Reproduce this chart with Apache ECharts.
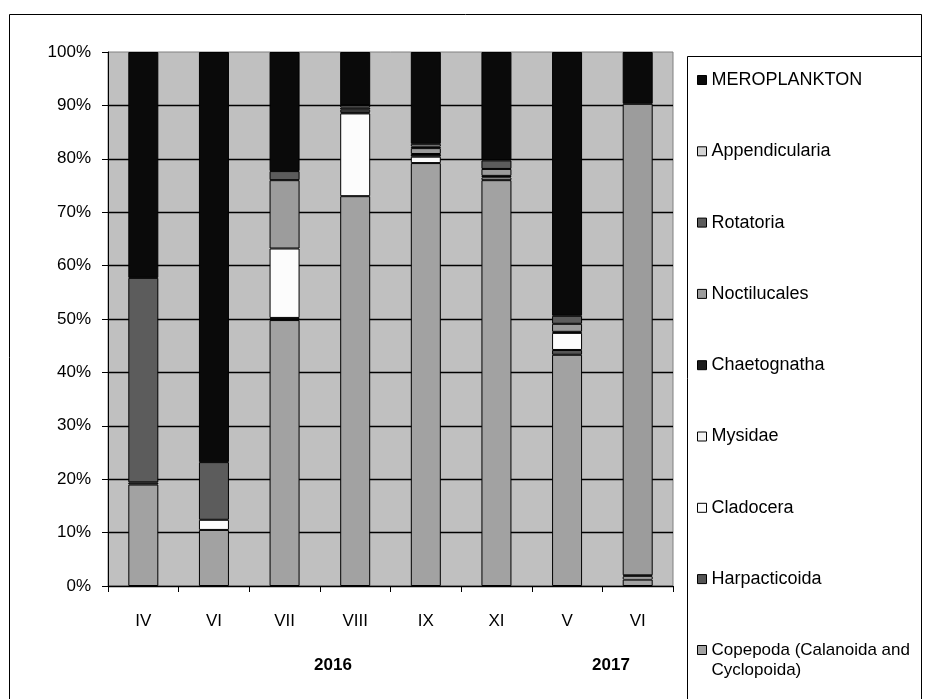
<!DOCTYPE html>
<html>
<head>
<meta charset="utf-8">
<script src="https://cdn.jsdelivr.net/npm/echarts@6/dist/echarts.min.js"></script>
<style>
html,body{margin:0;padding:0;background:#fff;}
#chart{width:925px;height:699px;}
</style>
</head>
<body>
<div id="chart"></div>
<script>
// Categories (months) and year labels
var categories = ['IV', 'VI', 'VII', 'VIII', 'IX', 'XI', 'V', 'VI'];
var yearLabels = ['2016', '2017'];

// Series values (% of total), bottom of stack first
var copepoda       = [19.0, 10.5, 49.8, 73.0, 79.2, 76.0, 43.3, 1.2];
var harpacticoida  = [0.4, 0, 0.4, 0, 0, 0, 0.9, 0];
var cladocera      = [0, 1.9, 13.0, 15.5, 1.2, 0.5, 3.2, 0.6];
var mysidae        = [0, 0, 0, 0, 0, 0, 0, 0];
var chaetognatha   = [0, 0, 0, 0.2, 0.5, 0.3, 0.2, 0.2];
var noctilucales   = [0, 0, 12.8, 0.5, 1.1, 1.3, 1.5, 88.3];
var rotatoria      = [38.3, 10.8, 1.7, 0.4, 0.3, 1.6, 1.5, 0];
var appendicularia = [0, 0, 0, 0.4, 0.5, 0, 0, 0];
var meroplankton   = [42.3, 76.8, 22.3, 10.0, 17.2, 20.3, 49.4, 9.7];

var seriesNames = ['Copepoda (Calanoida and\nCyclopoida)', 'Harpacticoida', 'Cladocera', 'Mysidae',
  'Chaetognatha', 'Noctilucales', 'Rotatoria', 'Appendicularia', 'MEROPLANKTON'];
var seriesData = [copepoda, harpacticoida, cladocera, mysidae, chaetognatha,
  noctilucales, rotatoria, appendicularia, meroplankton];
var seriesColors = ['#a2a2a2', '#555555', '#fcfcfc', '#f2f2f2', '#1c1c1c',
  '#9c9c9c', '#5c5c5c', '#d4d4d4', '#0a0a0a'];

var FONT = '"Liberation Sans", Arial, sans-serif';

var series = seriesNames.map(function (name, i) {
  return {
    name: name,
    type: 'bar',
    stack: 'total',
    barWidth: 30,
    itemStyle: { color: seriesColors[i], borderColor: '#000', borderWidth: 1 },
    emphasis: { disabled: true },
    data: seriesData[i].map(function (v) { return v === 0 ? '-' : v; })
  };
});

var reversedNames = seriesNames.slice().reverse();
var legendMain = reversedNames.slice(0, reversedNames.length - 1);
var legendLast = reversedNames.slice(reversedNames.length - 1);

function legendBase(extra, fontSize) {
  var base = {
    orient: 'vertical',
    left: 697,
    height: 700,
    padding: 0,
    itemGap: 51.3,
    itemWidth: 9,
    itemHeight: 9,
    icon: 'rect',
    selectedMode: false,
    itemStyle: { borderColor: '#000', borderWidth: 1 },
    textStyle: { fontFamily: FONT, fontSize: fontSize, color: '#000', lineHeight: 20 }
  };
  for (var k in extra) base[k] = extra[k];
  return base;
}

var chart = echarts.init(document.getElementById('chart'), null, { renderer: 'canvas' });
chart.setOption({
  animation: false,
  backgroundColor: '#ffffff',
  grid: {
    left: 108, right: 252, top: 52, bottom: 113,
    show: true, backgroundColor: '#c0c0c0', borderColor: '#808080', borderWidth: 1
  },
  legend: [
    legendBase({ top: 70, data: legendMain }, 18),
    legendBase({ top: 620, data: legendLast,
      formatter: function (name) { return '\n' + name; } }, 17)
  ],
  xAxis: {
    type: 'category',
    data: categories,
    boundaryGap: true,
    axisLine: { lineStyle: { color: '#000', width: 1 } },
    axisTick: { show: true, length: 6, lineStyle: { color: '#000' } },
    axisLabel: { fontFamily: FONT, fontSize: 17, color: '#000', margin: 27 },
    splitLine: { show: false }
  },
  yAxis: {
    type: 'value',
    min: 0, max: 100, interval: 10,
    axisLine: { show: true, lineStyle: { color: '#000', width: 1 } },
    axisTick: { show: true, length: 6, lineStyle: { color: '#000' } },
    axisLabel: { fontFamily: FONT, fontSize: 17, color: '#000', margin: 17, formatter: '{value}%' },
    splitLine: { show: true, showMaxLine: false, lineStyle: { color: '#000', width: 1.3 } }
  },
  graphic: [
    { type: 'rect', silent: true, z: -1,
      shape: { x: 9.5, y: 14.5, width: 912, height: 700 },
      style: { fill: 'none', stroke: '#000', lineWidth: 1 } },
    { type: 'rect', silent: true,
      shape: { x: 687.5, y: 56.5, width: 234, height: 660 },
      style: { fill: 'none', stroke: '#000', lineWidth: 1 } },
    { type: 'text', silent: true, x: 333, y: 665,
      style: { text: yearLabels[0], fontFamily: FONT, fontSize: 17, fontWeight: 'bold', fill: '#000',
        align: 'center', verticalAlign: 'middle' } },
    { type: 'text', silent: true, x: 611, y: 665,
      style: { text: yearLabels[1], fontFamily: FONT, fontSize: 17, fontWeight: 'bold', fill: '#000',
        align: 'center', verticalAlign: 'middle' } }
  ],
  series: series
});
</script>
</body>
</html>
